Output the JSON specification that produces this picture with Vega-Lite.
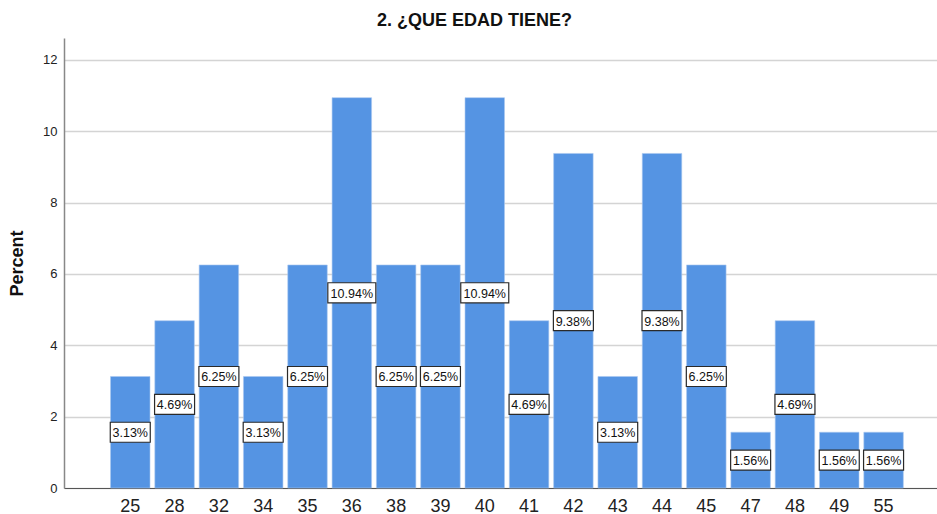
{
  "$schema": "https://vega.github.io/schema/vega-lite/v6.json",
  "width": 873,
  "height": 450,
  "autosize": "none",
  "padding": {"left": 64, "top": 38, "right": 0, "bottom": 26},
  "background": "white",
  "title": {
    "text": "2. ¿QUE EDAD TIENE?",
    "font": "Liberation Sans",
    "fontSize": 18,
    "fontWeight": "bold",
    "color": "#111111",
    "anchor": "middle",
    "dx": -26,
    "offset": 8
  },
  "data": {
    "values": [
      {"age": "25", "pct": 3.125},
      {"age": "28", "pct": 4.6875},
      {"age": "32", "pct": 6.25},
      {"age": "34", "pct": 3.125},
      {"age": "35", "pct": 6.25},
      {"age": "36", "pct": 10.9375},
      {"age": "38", "pct": 6.25},
      {"age": "39", "pct": 6.25},
      {"age": "40", "pct": 10.9375},
      {"age": "41", "pct": 4.6875},
      {"age": "42", "pct": 9.375},
      {"age": "43", "pct": 3.125},
      {"age": "44", "pct": 9.375},
      {"age": "45", "pct": 6.25},
      {"age": "47", "pct": 1.5625},
      {"age": "48", "pct": 4.6875},
      {"age": "49", "pct": 1.5625},
      {"age": "55", "pct": 1.5625}
    ]
  },
  "transform": [
    {"calculate": "datum.pct / 2", "as": "mid"},
    {"calculate": "format(datum.pct, '.2f') + '%'", "as": "label"}
  ],
  "encoding": {
    "x": {
      "field": "age",
      "type": "ordinal",
      "sort": null,
      "scale": {"paddingInner": 0.109, "paddingOuter": 0.905, "align": 0.58},
      "axis": {
        "title": null,
        "labelAngle": 0,
        "labelFont": "Liberation Sans",
        "labelFontSize": 18,
        "labelColor": "#222222",
        "labelPadding": 9,
        "ticks": false,
        "domainColor": "#555555",
        "domainWidth": 1.2,
        "grid": false
      }
    }
  },
  "layer": [
    {
      "mark": {"type": "bar", "color": "#5594e3", "stroke": "#a9c8f0", "strokeWidth": 0.6},
      "encoding": {
        "y": {
          "field": "pct",
          "type": "quantitative",
          "scale": {"domain": [0, 12.61], "nice": false},
          "axis": {
            "title": "Percent",
            "titleFont": "Liberation Sans",
            "titleFontSize": 18,
            "titleFontWeight": "bold",
            "titleColor": "#111111",
            "titlePadding": 16,
            "values": [0, 2, 4, 6, 8, 10, 12],
            "format": "d",
            "labelFont": "Liberation Sans",
            "labelFontSize": 13,
            "labelColor": "#222222",
            "labelPadding": 7,
            "ticks": false,
            "domainColor": "#888888",
            "domainWidth": 1.5,
            "grid": true,
            "gridColor": "#d4d4d4",
            "gridWidth": 1.4
          }
        }
      }
    },
    {
      "mark": {"type": "point", "filled": true, "fill": "white", "stroke": "#2a2a2a", "strokeWidth": 1.2, "opacity": 1},
      "encoding": {
        "y": {"field": "mid", "type": "quantitative"},
        "shape": {
          "condition": {"test": "datum.pct > 10", "value": "M-1,-0.42H1V0.42H-1Z"},
          "value": "M-1,-0.5H1V0.5H-1Z"
        },
        "size": {
          "condition": {"test": "datum.pct > 10", "value": 2304},
          "value": 1600
        }
      }
    },
    {
      "mark": {"type": "text", "font": "Liberation Sans", "fontSize": 12.5, "color": "#111111", "align": "center", "baseline": "middle", "dy": 1},
      "encoding": {
        "y": {"field": "mid", "type": "quantitative"},
        "text": {"field": "label"}
      }
    }
  ],
  "config": {
    "view": {"stroke": null}
  }
}
